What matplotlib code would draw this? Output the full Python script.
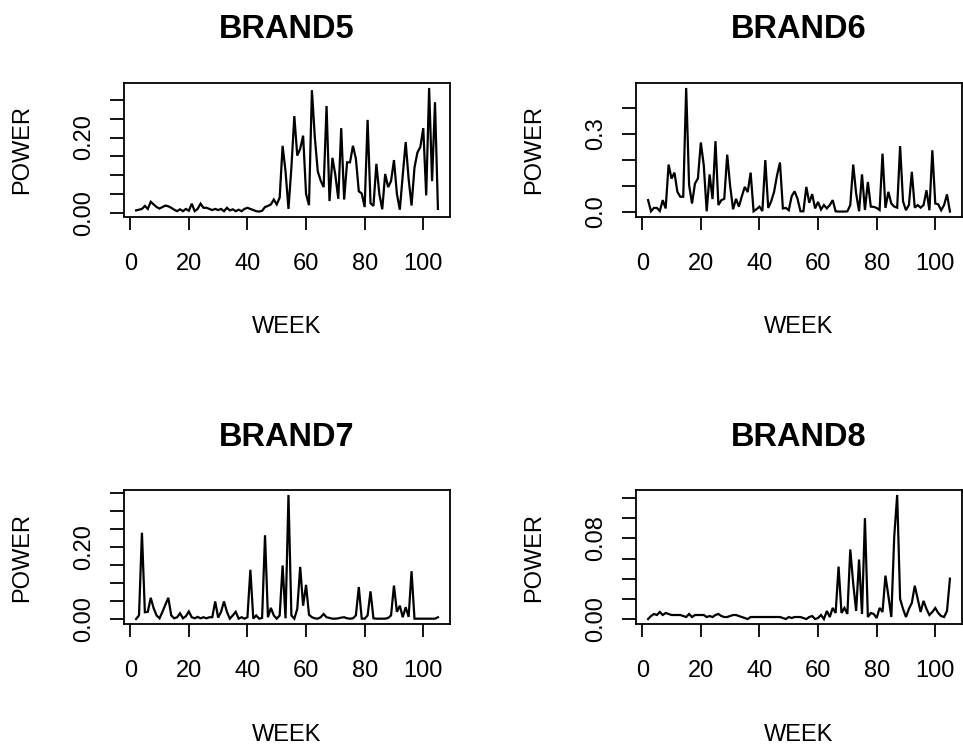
import matplotlib
matplotlib.use("Agg")
import matplotlib.pyplot as plt
import numpy as np

plt.rcParams['font.family'] = ['Liberation Sans', 'DejaVu Sans']

weeks = list(range(2, 106))

brand5 = [0.006, 0.008, 0.010, 0.018, 0.010, 0.029, 0.022, 0.015, 0.011, 0.015,
          0.019, 0.017, 0.013, 0.008, 0.004, 0.009, 0.004, 0.010, 0.005, 0.024,
          0.004, 0.010, 0.024, 0.013, 0.013, 0.010, 0.007, 0.010, 0.007, 0.010,
          0.004, 0.013, 0.006, 0.009, 0.004, 0.008, 0.004, 0.010, 0.013, 0.010,
          0.007, 0.004, 0.003, 0.005, 0.015, 0.018, 0.022, 0.035, 0.022, 0.040,
          0.178, 0.110, 0.010, 0.120, 0.257, 0.152, 0.170, 0.205, 0.050, 0.020,
          0.326, 0.200, 0.110, 0.085, 0.068, 0.284, 0.031, 0.146, 0.100, 0.037,
          0.225, 0.035, 0.134, 0.134, 0.178, 0.144, 0.057, 0.051, 0.015, 0.247,
          0.025, 0.018, 0.130, 0.050, 0.009, 0.103, 0.068, 0.084, 0.140, 0.050,
          0.008, 0.100, 0.188, 0.090, 0.019, 0.120, 0.160, 0.175, 0.225, 0.046,
          0.332, 0.084, 0.294, 0.010]

brand6 = [0.045, 0.002, 0.015, 0.015, 0.003, 0.045, 0.013, 0.182, 0.128, 0.151,
          0.077, 0.058, 0.058, 0.477, 0.103, 0.032, 0.109, 0.128, 0.267, 0.180,
          0.002, 0.144, 0.049, 0.272, 0.026, 0.045, 0.050, 0.220, 0.100, 0.010,
          0.050, 0.020, 0.060, 0.096, 0.076, 0.151, 0.002, 0.010, 0.020, 0.003,
          0.199, 0.015, 0.040, 0.077, 0.140, 0.190, 0.013, 0.015, 0.006, 0.060,
          0.079, 0.050, 0.002, 0.002, 0.096, 0.035, 0.068, 0.013, 0.038, 0.009,
          0.026, 0.013, 0.026, 0.045, 0.002, 0.001, 0.001, 0.001, 0.002, 0.026,
          0.182, 0.070, 0.002, 0.144, 0.007, 0.115, 0.020, 0.019, 0.015, 0.007,
          0.224, 0.015, 0.077, 0.032, 0.020, 0.016, 0.253, 0.040, 0.006, 0.026,
          0.154, 0.016, 0.026, 0.016, 0.026, 0.083, 0.006, 0.237, 0.032, 0.029,
          0.006, 0.026, 0.067, 0.001]

brand7 = [0.000, 0.010, 0.240, 0.019, 0.020, 0.059, 0.030, 0.010, 0.002, 0.020,
          0.040, 0.059, 0.010, 0.002, 0.005, 0.016, 0.002, 0.008, 0.021, 0.005,
          0.002, 0.006, 0.002, 0.005, 0.002, 0.005, 0.005, 0.049, 0.004, 0.020,
          0.049, 0.020, 0.001, 0.010, 0.020, 0.001, 0.005, 0.001, 0.005, 0.137,
          0.001, 0.010, 0.001, 0.003, 0.233, 0.005, 0.031, 0.010, 0.001, 0.010,
          0.149, 0.002, 0.345, 0.010, 0.001, 0.028, 0.145, 0.037, 0.095, 0.012,
          0.005, 0.002, 0.001, 0.005, 0.014, 0.005, 0.003, 0.001, 0.001, 0.002,
          0.004, 0.005, 0.002, 0.001, 0.002, 0.010, 0.089, 0.001, 0.001, 0.010,
          0.077, 0.002, 0.001, 0.001, 0.001, 0.001, 0.003, 0.010, 0.093, 0.020,
          0.037, 0.005, 0.033, 0.006, 0.133, 0.001, 0.001, 0.001, 0.001, 0.001,
          0.001, 0.001, 0.001, 0.005]

brand8 = [0.000, 0.003, 0.005, 0.004, 0.007, 0.004, 0.006, 0.005, 0.004, 0.004,
          0.004, 0.004, 0.003, 0.002, 0.005, 0.002, 0.004, 0.004, 0.004, 0.004,
          0.002, 0.003, 0.002, 0.004, 0.005, 0.003, 0.002, 0.002, 0.003, 0.004,
          0.004, 0.003, 0.002, 0.001, 0.000, 0.002, 0.002, 0.002, 0.002, 0.002,
          0.002, 0.002, 0.002, 0.002, 0.002, 0.002, 0.001, 0.000, 0.002, 0.001,
          0.002, 0.002, 0.002, 0.001, 0.000, 0.002, 0.003, 0.000, 0.001, 0.004,
          0.000, 0.008, 0.002, 0.011, 0.006, 0.052, 0.006, 0.011, 0.005, 0.069,
          0.035, 0.008, 0.059, 0.005, 0.100, 0.002, 0.006, 0.005, 0.001, 0.011,
          0.007, 0.043, 0.023, 0.002, 0.082, 0.123, 0.020, 0.010, 0.002, 0.010,
          0.016, 0.033, 0.020, 0.007, 0.018, 0.010, 0.004, 0.007, 0.011, 0.006,
          0.003, 0.002, 0.008, 0.040]

titles = ["BRAND5", "BRAND6", "BRAND7", "BRAND8"]
series = [brand5, brand6, brand7, brand8]

x_ticks = [0, 20, 40, 60, 80, 100]
x_ticklabels = ["0", "20", "40", "60", "80", "100"]

y_ticks = [
    [0.00, 0.05, 0.10, 0.15, 0.20, 0.25, 0.30],
    [0.0, 0.1, 0.2, 0.3, 0.4],
    [0.00, 0.05, 0.10, 0.15, 0.20, 0.25, 0.30, 0.35],
    [0.00, 0.02, 0.04, 0.06, 0.08, 0.10, 0.12],
]
y_ticklabels = [
    ["0.00", "", "", "", "0.20", "", ""],
    ["0.0", "", "", "0.3", ""],
    ["0.00", "", "", "", "0.20", "", "", ""],
    ["0.00", "", "", "", "0.08", "", ""],
]

W, H = 963, 748
fig = plt.figure(figsize=(W / 100, H / 100), dpi=100)

# axes boxes in pixels: left, top, right, bottom
boxes = [(124, 83, 450, 216.5), (636, 83, 962, 216.5),
         (124, 490, 450, 624), (636, 490, 962, 624)]

for i in range(4):
    l, t, r, b = boxes[i]
    ax = fig.add_axes([l / W, 1 - b / H, (r - l) / W, (b - t) / H])
    y = np.array(series[i])
    ax.plot(weeks, y, color='black', lw=1.6, solid_joinstyle='miter')
    xr = weeks[-1] - weeks[0]
    ax.set_xlim(weeks[0] - 0.04 * xr, weeks[-1] + 0.04 * xr)
    yr = y.max() - y.min()
    ax.set_ylim(y.min() - 0.04 * yr, y.max() + 0.04 * yr)
    ax.set_xticks(x_ticks)
    ax.set_xticklabels(x_ticklabels)
    ax.set_yticks(y_ticks[i])
    ax.set_yticklabels(y_ticklabels[i], rotation=90, va='center')
    ax.tick_params(axis='x', direction='out', length=9, width=1.3, pad=17,
                   labelsize=17)
    ax.tick_params(axis='y', direction='out', length=10, width=1.3, pad=11,
                   labelsize=17)
    for s in ax.spines.values():
        s.set_linewidth(1.3)
    cx = (l + r) / 2
    fig.text(cx / W, 1 - (t - 53) / H, titles[i], ha='center', va='center',
             fontsize=23.5, fontweight='bold')
    fig.text(cx / W, 1 - (b + 111) / H, "WEEK", ha='center', va='center',
             fontsize=17)
    fig.text((l - 102) / W, 1 - ((t + b) / 2) / H, "POWER", ha='center',
             va='center', rotation=90, fontsize=17)

fig.savefig("out.png", dpi=100)
